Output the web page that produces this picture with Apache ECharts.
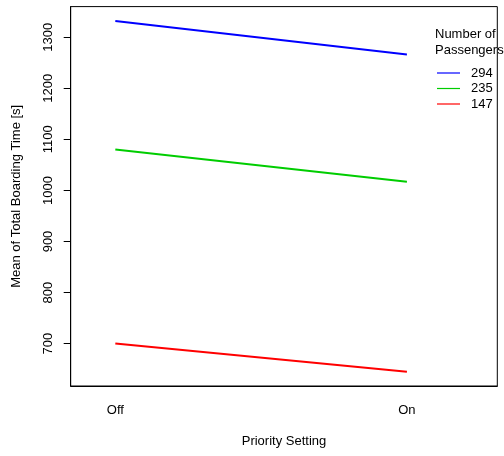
<!DOCTYPE html>
<html>
<head>
<meta charset="utf-8">
<script src="https://cdn.jsdelivr.net/npm/echarts@6/dist/echarts.min.js"></script>
<style>html,body{margin:0;padding:0;background:#fff;}#c{width:504px;height:456px;}</style>
</head>
<body>
<div id="c"></div>
<script>
const priorityLevels = ['Off', 'On'];
const priorityPositions = [1, 2];
const passengerGroups = ['294', '235', '147'];
const seriesColors = ['#0000FF', '#00CD00', '#FF0000'];
const time294 = [1332, 1266];
const time235 = [1080, 1017];
const time147 = [700, 645];
const yTickValues = [700, 800, 900, 1000, 1100, 1200, 1300];

const groupValues = [time294, time235, time147];
const FONT = 'Liberation Sans, Arial, sans-serif';

const chart = echarts.init(document.getElementById('c'), null, {renderer: 'canvas'});
chart.setOption({
  animation: false,
  backgroundColor: '#fff',
  textStyle: {fontFamily: FONT},
  grid: {left: 70.7, right: 6.7, top: 6.6, bottom: 70, show: true, borderColor: '#000', borderWidth: 1, containLabel: false},
  title: {
    text: 'Number of\nPassengers', left: 430, top: 22,
    textStyle: {fontFamily: FONT, fontSize: 13, fontWeight: 'normal', color: '#000', lineHeight: 15.6}
  },
  legend: {
    orient: 'vertical', left: 432, top: 61,
    itemWidth: 23, itemHeight: 1.2, itemGap: 1.5, icon: 'rect',
    data: passengerGroups,
    textStyle: {fontFamily: FONT, fontSize: 13, color: '#000', lineHeight: 14, padding: [0, 0, 0, 6]}
  },
  xAxis: {
    type: 'value', min: 0.847, max: 2.31,
    name: 'Priority Setting', nameLocation: 'middle', nameGap: 49,
    nameTextStyle: {fontFamily: FONT, fontSize: 13, color: '#000'},
    axisLine: {show: true, lineStyle: {color: '#000'}},
    axisTick: {show: false},
    splitLine: {show: false},
    axisLabel: {
      customValues: priorityPositions, margin: 18,
      fontFamily: FONT, fontSize: 13, color: '#000',
      formatter: function (v) { const i = priorityPositions.indexOf(v); return i >= 0 ? priorityLevels[i] : ''; }
    }
  },
  yAxis: {
    type: 'value', min: 617, max: 1360,
    name: 'Mean of Total Boarding Time [s]', nameLocation: 'middle', nameGap: 48,
    nameTextStyle: {fontFamily: FONT, fontSize: 13, color: '#000'},
    axisLine: {show: true, lineStyle: {color: '#000'}},
    axisTick: {show: true, customValues: yTickValues, length: 7, lineStyle: {color: '#000'}},
    splitLine: {show: false},
    axisLabel: {customValues: yTickValues, rotate: 90, margin: 16, fontFamily: FONT, fontSize: 13, color: '#000',
      formatter: function (v) { return String(v); }}
  },
  series: passengerGroups.map(function (g, k) {
    return {
      name: g, type: 'line', symbol: 'none',
      color: seriesColors[k],
      itemStyle: {color: seriesColors[k]},
      lineStyle: {width: 2, color: seriesColors[k]},
      data: priorityPositions.map(function (x, i) { return [x, groupValues[k][i]]; })
    };
  })
});
</script>
</body>
</html>
